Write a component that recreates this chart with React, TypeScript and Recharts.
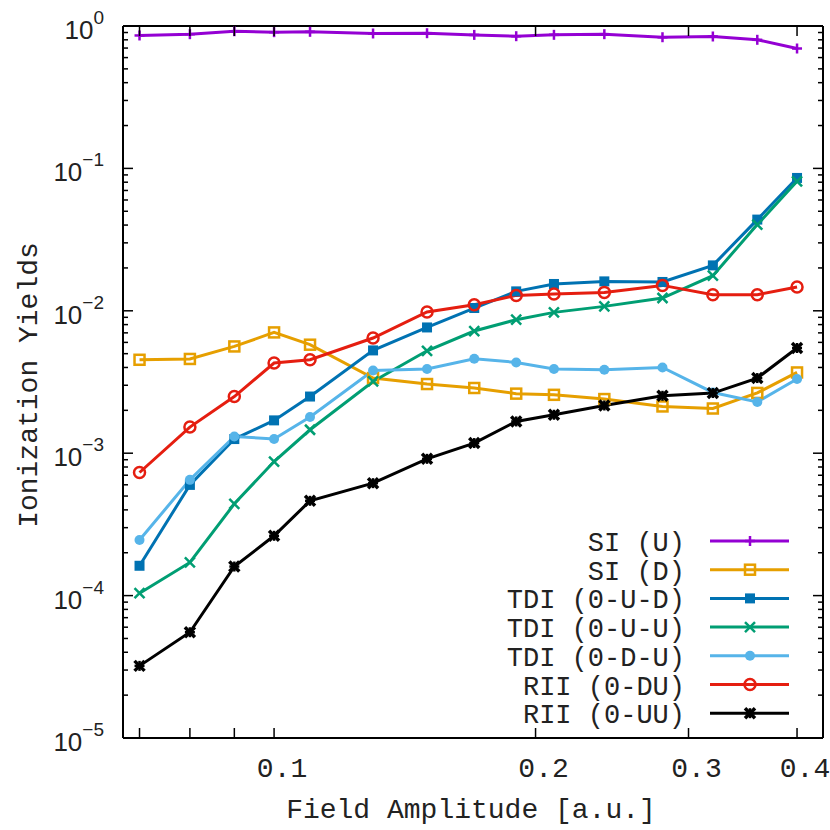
import { LineChart, Line, XAxis, YAxis, Legend } from 'recharts';

// field amplitude [a.u.] of each calculation
const FIELD = [0.07, 0.08, 0.09, 0.1, 0.11, 0.13, 0.15, 0.17, 0.19, 0.21, 0.24, 0.28, 0.32, 0.36, 0.4];

const SI_U = [0.858, 0.876, 0.919, 0.905, 0.91, 0.886, 0.89, 0.866, 0.848, 0.867, 0.876, 0.834, 0.844, 0.8, 0.695];
const SI_D = [4.53e-3, 4.59e-3, 5.62e-3, 7.05e-3, 5.78e-3, 3.37e-3, 3.06e-3, 2.87e-3, 2.62e-3, 2.57e-3, 2.4e-3, 2.13e-3, 2.06e-3, 2.65e-3, 3.69e-3];
const TDI_UD = [1.62e-4, 5.99e-4, 1.257e-3, 1.7e-3, 2.5e-3, 5.27e-3, 7.64e-3, 1.046e-2, 1.369e-2, 1.543e-2, 1.609e-2, 1.594e-2, 2.084e-2, 4.37e-2, 8.57e-2];
const TDI_UU = [1.04e-4, 1.71e-4, 4.41e-4, 8.74e-4, 1.461e-3, 3.19e-3, 5.24e-3, 7.21e-3, 8.66e-3, 9.75e-3, 1.074e-2, 1.23e-2, 1.765e-2, 4.03e-2, 8.12e-2];
const TDI_DU = [2.46e-4, 6.5e-4, 1.311e-3, 1.257e-3, 1.794e-3, 3.81e-3, 3.9e-3, 4.61e-3, 4.34e-3, 3.9e-3, 3.86e-3, 4.0e-3, 2.67e-3, 2.29e-3, 3.32e-3];
const RII_DU = [7.32e-4, 1.526e-3, 2.5e-3, 4.3e-3, 4.53e-3, 6.44e-3, 9.81e-3, 1.104e-2, 1.283e-2, 1.312e-2, 1.347e-2, 1.508e-2, 1.298e-2, 1.298e-2, 1.47e-2];
const RII_UU = [3.21e-5, 5.53e-5, 1.6e-4, 2.63e-4, 4.63e-4, 6.16e-4, 9.13e-4, 1.178e-3, 1.671e-3, 1.862e-3, 2.163e-3, 2.53e-3, 2.645e-3, 3.37e-3, 5.48e-3];

// axis ticks
const X_TICKS = [0.07, 0.08, 0.09, 0.1, 0.2, 0.3, 0.4];
const X_LABELLED = [0.1, 0.2, 0.3, 0.4];
const Y_DECADES = [-5, -4, -3, -2, -1, 0];
const Y_MINOR = [2, 3, 4, 5, 6, 7, 8, 9];

const SERIES = [
  { key: 'siU', name: 'SI (U)', color: '#9400d3', marker: 'plus', values: SI_U },
  { key: 'siD', name: 'SI (D)', color: '#e69f00', marker: 'openSquare', values: SI_D },
  { key: 'tdiUD', name: 'TDI (0-U-D)', color: '#0072b2', marker: 'square', values: TDI_UD },
  { key: 'tdiUU', name: 'TDI (0-U-U)', color: '#009e73', marker: 'cross', values: TDI_UU },
  { key: 'tdiDU', name: 'TDI (0-D-U)', color: '#56b4e9', marker: 'dot', values: TDI_DU },
  { key: 'riiDU', name: 'RII (0-DU)', color: '#e51e10', marker: 'openCircle', values: RII_DU },
  { key: 'riiUU', name: 'RII (0-UU)', color: '#000000', marker: 'star', values: RII_UU },
];

const rows = FIELD.map((x, i) => {
  const row: Record<string, number> = { x };
  SERIES.forEach((s) => { row[s.key] = s.values[i]; });
  return row;
});

const yTicks: number[] = [];
Y_DECADES.forEach((k) => {
  yTicks.push(Math.pow(10, k));
  if (k < 0) Y_MINOR.forEach((m) => yTicks.push(m * Math.pow(10, k)));
});

const MONO = '"Liberation Mono", "DejaVu Sans Mono", monospace';
const SANS = '"Liberation Sans", Arial, sans-serif';

function Marker({ kind, cx, cy, color }: { kind: string; cx: number; cy: number; color: string }) {
  switch (kind) {
    case 'plus':
      return (
        <g stroke={color} strokeWidth={2.5}>
          <line x1={cx - 5} x2={cx + 5} y1={cy} y2={cy} />
          <line x1={cx} x2={cx} y1={cy - 5} y2={cy + 5} />
        </g>
      );
    case 'openSquare':
      return <rect x={cx - 5} y={cy - 5} width={10} height={10} fill="none" stroke={color} strokeWidth={2.5} />;
    case 'square':
      return <rect x={cx - 5} y={cy - 5} width={10} height={10} fill={color} />;
    case 'cross':
      return (
        <g stroke={color} strokeWidth={2.5}>
          <line x1={cx - 5} x2={cx + 5} y1={cy - 5} y2={cy + 5} />
          <line x1={cx - 5} x2={cx + 5} y1={cy + 5} y2={cy - 5} />
        </g>
      );
    case 'dot':
      return <circle cx={cx} cy={cy} r={5} fill={color} />;
    case 'openCircle':
      return <circle cx={cx} cy={cy} r={5.5} fill="none" stroke={color} strokeWidth={2.5} />;
    default:
      return (
        <g stroke={color} strokeWidth={3.5}>
          <line x1={cx - 5} x2={cx + 5} y1={cy - 5} y2={cy + 5} />
          <line x1={cx - 5} x2={cx + 5} y1={cy + 5} y2={cy - 5} />
          <line x1={cx - 5} x2={cx + 5} y1={cy} y2={cy} strokeWidth={2.5} />
          <line x1={cx} x2={cx} y1={cy - 5} y2={cy + 5} strokeWidth={2.5} />
        </g>
      );
  }
}

function isDecade(v: number) {
  const l = Math.log10(v);
  return Math.abs(l - Math.round(l)) < 1e-9;
}

// eslint-disable-next-line @typescript-eslint/no-explicit-any
function XTick(props: any) {
  const { x, y, payload, top } = props;
  const v = payload.value;
  const dir = top ? 1 : -1;
  return (
    <g>
      <line x1={x} x2={x} y1={y} y2={y + dir * 10} stroke="#000" strokeWidth={1.5} />
      {!top && X_LABELLED.includes(v) && (
        <text x={x + 8} y={y + 39} textAnchor="middle" fontFamily={MONO} fontSize={28} fill="#222">
          {String(v)}
        </text>
      )}
    </g>
  );
}

// eslint-disable-next-line @typescript-eslint/no-explicit-any
function YTick(props: any) {
  const { x, y, payload, right } = props;
  const v = payload.value;
  const major = isDecade(v);
  const len = major ? 10 : 5;
  const dir = right ? -1 : 1;
  const k = Math.round(Math.log10(v));
  return (
    <g>
      <line x1={x} x2={x + dir * len} y1={y} y2={y} stroke="#000" strokeWidth={1.5} />
      {!right && major && (
        <text x={x - 19} y={y + 13} textAnchor="end" fontFamily={SANS} fontSize={26} fill="#222">
          <tspan>10</tspan>
          <tspan dy={-15} fontSize={19}>{k === 0 ? '0' : '\u2212' + -k}</tspan>
        </text>
      )}
    </g>
  );
}

function KeyBox() {
  return (
    <svg width={360} height={210}>
      {SERIES.map((s, i) => {
        const cy = 21 + i * 28.7;
        return (
          <g key={s.key}>
            <text x={235} y={cy + 10} textAnchor="end" fontFamily={MONO} fontSize={27} fill="#222">
              {s.name}
            </text>
            <line x1={260} x2={339} y1={cy} y2={cy} stroke={s.color} strokeWidth={3} />
            <Marker kind={s.marker} cx={300} cy={cy} color={s.color} />
          </g>
        );
      })}
    </svg>
  );
}

export default function App() {
  return (
    <div style={{ position: 'absolute', left: 0, top: 0, width: 830, height: 830, background: '#fff' }}>
      <LineChart width={830} height={830} data={rows} margin={{ top: 0, right: 0, bottom: 0, left: 0 }}>
        <XAxis
          xAxisId="b"
          dataKey="x"
          type="number"
          scale="log"
          domain={[0.067, 0.4285]}
          allowDataOverflow
          ticks={X_TICKS}
          interval={0}
          height={92}
          tickSize={0}
          tickMargin={0}
          tickLine={false}
          axisLine={{ stroke: '#000', strokeWidth: 2 }}
          tick={<XTick />}
        />
        <XAxis
          xAxisId="t"
          orientation="top"
          dataKey="x"
          type="number"
          scale="log"
          domain={[0.067, 0.4285]}
          allowDataOverflow
          ticks={X_TICKS}
          interval={0}
          height={26}
          tickSize={0}
          tickMargin={0}
          tickLine={false}
          axisLine={{ stroke: '#000', strokeWidth: 2 }}
          tick={<XTick top />}
        />
        <YAxis
          yAxisId="l"
          type="number"
          scale="log"
          domain={[1e-5, 1]}
          allowDataOverflow
          ticks={yTicks}
          interval={0}
          width={123}
          tickSize={0}
          tickMargin={0}
          tickLine={false}
          axisLine={{ stroke: '#000', strokeWidth: 2 }}
          tick={<YTick />}
        />
        <YAxis
          yAxisId="r"
          orientation="right"
          type="number"
          scale="log"
          domain={[1e-5, 1]}
          allowDataOverflow
          ticks={yTicks}
          interval={0}
          width={7}
          tickSize={0}
          tickMargin={0}
          tickLine={false}
          axisLine={{ stroke: '#000', strokeWidth: 2 }}
          tick={<YTick right />}
        />
        {SERIES.map((s) => (
          <Line
            key={s.key}
            xAxisId="b"
            yAxisId="l"
            dataKey={s.key}
            name={s.name}
            type="linear"
            stroke={s.color}
            strokeWidth={3}
            isAnimationActive={false}
            // eslint-disable-next-line @typescript-eslint/no-explicit-any
            dot={(p: any) => <Marker key={`${s.key}-${p.index}`} kind={s.marker} cx={p.cx} cy={p.cy} color={s.color} />}
            activeDot={false}
          />
        ))}
        <Legend
          layout="vertical"
          align="center"
          verticalAlign="middle"
          content={() => <KeyBox />}
          wrapperStyle={{ left: 450, top: 520, width: 360, height: 210 }}
        />
        <text
          x={37}
          y={385}
          transform="rotate(-90 37 385)"
          textAnchor="middle"
          fontFamily={MONO}
          fontSize={28}
          fill="#222"
        >
          Ionization Yields
        </text>
        <text x={471} y={818} textAnchor="middle" fontFamily={MONO} fontSize={28} fill="#222">
          Field Amplitude [a.u.]
        </text>
      </LineChart>
    </div>
  );
}
